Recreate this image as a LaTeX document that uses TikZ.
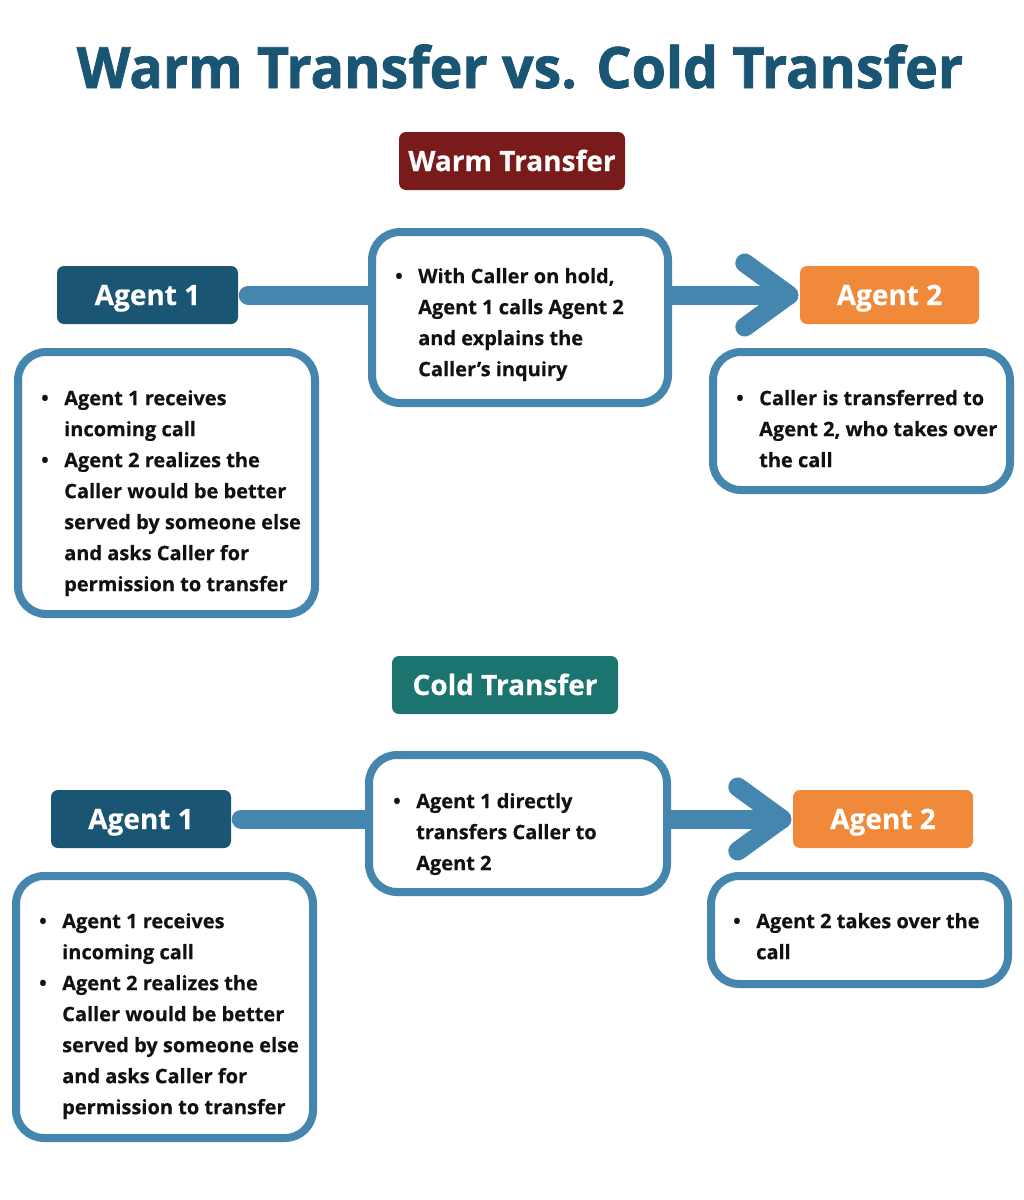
\documentclass[tikz,border=0pt]{standalone}
\usepackage{fontspec}
\setmainfont{Open Sans}[BoldFeatures={FakeBold=0.3}]
\newfontfamily\titlefont{Open Sans}[BoldFeatures={FakeBold=1.4}]
\usetikzlibrary{calc}
\definecolor{steel}{HTML}{4586AF}
\definecolor{navy}{HTML}{1B5574}
\definecolor{orng}{HTML}{F08A3A}
\definecolor{wred}{HTML}{7A1B1B}
\definecolor{cteal}{HTML}{1B746F}
\definecolor{ink}{HTML}{111111}
\tikzset{
  descbox/.style={draw=steel, line width=8pt, rounded corners=28pt, fill=white, inner sep=0pt},
  tag/.style={rounded corners=7pt, inner sep=0pt, text=white, font=\fontsize{28}{32}\selectfont\bfseries, minimum height=58pt, text height=20pt, text depth=0pt},
  arrowline/.style={draw=steel, line width=19pt, line cap=round, line join=round},
  bodytext/.style={anchor=north west, inner sep=0pt, text=ink, font=\fontsize{20}{31}\selectfont\bfseries},
}
\newcommand{\bul}{\textbullet}
\begin{document}
\begin{tikzpicture}[x=1pt,y=-1pt]
\useasboundingbox[fill=white] (0,0) rectangle (1024,1200);
% title
\node[anchor=base, inner sep=0pt, text=navy, font=\fontsize{57}{66}\titlefont\bfseries] (title) at (520,88) {\scalebox{0.974}[1]{Warm Transfer vs. Cold Transfer}};
% ---------- warm ----------
\node[tag, fill=wred, minimum width=226pt] (warm) at (512,161) {Warm Transfer};
\node[tag, fill=navy, minimum width=181pt] (a1w) at (147.5,295) {Agent 1};
\node[tag, fill=orng, minimum width=179pt] (a2w) at (889.5,295) {Agent 2};
\coordinate (a1wstart) at ($(a1w.east)+(10,0)$);
\coordinate (a2wtip) at ($(a2w.west)+(-11,0)$);
\draw[arrowline] (a1wstart) -- (520,295);
\draw[arrowline] (520,295) -- (a2wtip);
\draw[arrowline] ($(a2wtip)+(-44,-32)$) -- (a2wtip) -- ($(a2wtip)+(-44,32)$);
\node[descbox, minimum width=296pt, minimum height=171pt] (midw) at (520,317.5) {};
\node[descbox, minimum width=297pt, minimum height=262pt] (d1w) at (166.5,483) {};
\node[descbox, minimum width=297pt, minimum height=138pt] (d2w) at (861.5,421) {};
\node[bodytext] (tmidw) at (395,261.3) {\begin{tabular}{@{}p{23pt}@{}l@{}}\bul & With Caller on hold,\\ & Agent 1 calls Agent 2\\ & and explains the\\ & Caller’s inquiry\end{tabular}};
\node[bodytext] (td1w) at (41,383.3) {\begin{tabular}{@{}p{23pt}@{}l@{}}\bul & Agent 1 receives\\ & incoming call\\ \bul & Agent 2 realizes the\\ & Caller would be better\\ & served by someone else\\ & and asks Caller for\\ & permission to transfer\end{tabular}};
\node[bodytext] (td2w) at (736,383.3) {\begin{tabular}{@{}p{23pt}@{}l@{}}\bul & Caller is transferred to\\ & Agent 2, who takes over\\ & the call\end{tabular}};
% ---------- cold ----------
\node[tag, fill=cteal, minimum width=226pt] (cold) at (505,685) {Cold Transfer};
\node[tag, fill=navy, minimum width=180pt] (a1c) at (141,819) {Agent 1};
\node[tag, fill=orng, minimum width=180pt] (a2c) at (883,819) {Agent 2};
\coordinate (a1cstart) at ($(a1c.east)+(10,0)$);
\coordinate (a2ctip) at ($(a2c.west)+(-11,0)$);
\draw[arrowline] (a1cstart) -- (518,819);
\draw[arrowline] (518,819) -- (a2ctip);
\draw[arrowline] ($(a2ctip)+(-44,-32)$) -- (a2ctip) -- ($(a2ctip)+(-44,32)$);
\node[descbox, minimum width=298pt, minimum height=137pt] (midc) at (518,823.5) {};
\node[descbox, minimum width=297pt, minimum height=262pt] (d1c) at (164.5,1007) {};
\node[descbox, minimum width=297pt, minimum height=108pt] (d2c) at (859.5,930) {};
\node[bodytext] (tmidc) at (393,786.3) {\begin{tabular}{@{}p{23pt}@{}l@{}}\bul & Agent 1 directly\\ & transfers Caller to\\ & Agent 2\end{tabular}};
\node[bodytext] (td1c) at (39,906.3) {\begin{tabular}{@{}p{23pt}@{}l@{}}\bul & Agent 1 receives\\ & incoming call\\ \bul & Agent 2 realizes the\\ & Caller would be better\\ & served by someone else\\ & and asks Caller for\\ & permission to transfer\end{tabular}};
\node[bodytext] (td2c) at (733,906.3) {\begin{tabular}{@{}p{23pt}@{}l@{}}\bul & Agent 2 takes over the\\ & call\end{tabular}};
\end{tikzpicture}
\end{document}
